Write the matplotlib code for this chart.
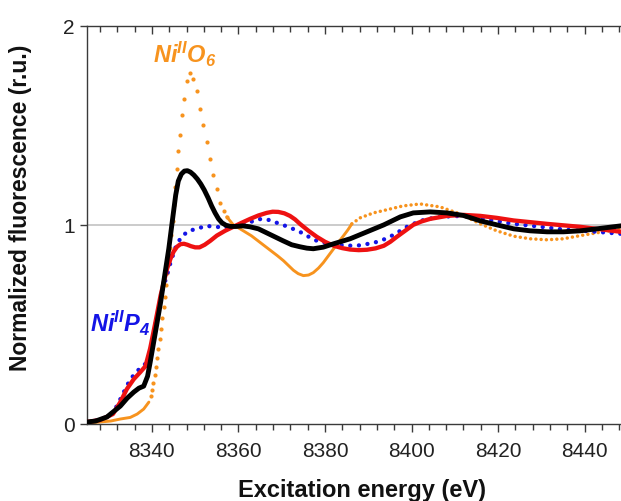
import matplotlib
matplotlib.use("Agg")
import matplotlib.pyplot as plt
from matplotlib.ticker import MultipleLocator, FixedLocator
import numpy as np

plt.rcParams['font.family'] = ['Liberation Sans', 'DejaVu Sans']
plt.rcParams['mathtext.fontset'] = 'custom'
plt.rcParams['mathtext.rm'] = 'Liberation Sans:bold:italic'
plt.rcParams['mathtext.it'] = 'Liberation Sans:bold:italic'
plt.rcParams['mathtext.bf'] = 'Liberation Sans:bold:italic'
plt.rcParams['mathtext.default'] = 'rm'

# ---------------- data ----------------
black_E = [8325, 8327, 8329.6, 8331, 8332.7, 8334.3, 8335.8, 8337, 8338.1, 8339, 8339.6,
           8340.4, 8341.2, 8342, 8342.7, 8343.9, 8344.9, 8345.5, 8346.1, 8346.8, 8347.5,
           8348.2, 8348.9, 8349.7, 8350.5, 8351.3, 8352.1, 8353, 8353.8, 8354.6, 8355.4,
           8356.2, 8357.1, 8358.2, 8359.5, 8361, 8362.7, 8364.6,
           8366.5, 8368.4, 8370.3, 8372.3, 8374.2, 8375.8, 8377.3, 8379.6, 8382, 8385.8, 8389.7,
           8393.6, 8397.4, 8400.4, 8404.3, 8408.2, 8412, 8415.9, 8419.7, 8423.6, 8427.4,
           8431.3, 8435.1, 8439, 8442.8, 8448.4]
black_v = [0.01, 0.015, 0.035, 0.06, 0.09, 0.13, 0.16, 0.18, 0.19, 0.24, 0.31,
           0.41, 0.51, 0.61, 0.71, 0.88, 1.05, 1.15, 1.22, 1.255, 1.27,
           1.272, 1.265, 1.25, 1.23, 1.205, 1.175, 1.135, 1.095, 1.06, 1.03,
           1.01, 0.998, 0.992, 0.992, 0.995, 0.99, 0.98,
           0.96, 0.94, 0.92, 0.90, 0.89, 0.883, 0.88, 0.888, 0.905, 0.93, 0.965,
           1.0, 1.04, 1.06, 1.065, 1.06, 1.047, 1.02, 1.0, 0.98, 0.97,
           0.965, 0.965, 0.97, 0.98, 0.995]

red_E = [8325, 8328, 8331, 8332.7, 8334.2, 8335.8, 8337.3, 8338.5, 8339.6, 8340.8, 8342,
         8343.5, 8344.3, 8345, 8345.8, 8346.6, 8347.4, 8348.2, 8349, 8350, 8351, 8352.2,
         8353.5, 8355, 8356.9, 8358.8, 8360.7, 8362.7, 8364.6,
         8366.5, 8367.9, 8369.2, 8370.6, 8371.9, 8373.1, 8374.2, 8376.2, 8378.1, 8380, 8382,
         8384, 8385.8, 8387.8, 8389.7, 8391.7,
         8393.6, 8395.1, 8396.6, 8398.5, 8400.4, 8402.3, 8404.3, 8408.2, 8412, 8415.9, 8419.7,
         8423.6, 8431.3, 8439, 8448.4]
red_v = [0.01, 0.02, 0.05, 0.11, 0.175, 0.225, 0.26, 0.29, 0.38, 0.51, 0.645,
         0.78, 0.83, 0.865, 0.89, 0.903, 0.905, 0.90, 0.893, 0.887, 0.887, 0.90,
         0.92, 0.946, 0.97, 0.99, 1.01, 1.03, 1.047,
         1.06, 1.066, 1.065, 1.058, 1.045, 1.027, 1.005, 0.97, 0.94, 0.915, 0.895,
         0.883, 0.876, 0.873, 0.875, 0.882,
         0.895, 0.915, 0.94, 0.97, 1.0, 1.017, 1.03, 1.045, 1.05, 1.045, 1.035,
         1.022, 1.005, 0.99, 0.965]

blue_E = [8325, 8328, 8330.5, 8331.9, 8333.5, 8335, 8336.8, 8338.9, 8340, 8341, 8342.3,
          8344.3, 8345.5, 8346.8, 8348.5, 8350.4, 8352.5, 8354.7, 8356.8, 8358.8, 8360.7,
          8362.7, 8364, 8365.4, 8366.6, 8367.7, 8369.5, 8371.5, 8374.2, 8375.8, 8378.1,
          8380, 8382, 8385, 8388, 8391.3, 8393.2, 8395, 8397, 8398.9, 8402, 8406, 8412,
          8418, 8423.6, 8430, 8436, 8442.8, 8448.4]
blue_v = [0.01, 0.02, 0.05, 0.09, 0.16, 0.225, 0.27, 0.31, 0.40, 0.52, 0.66,
          0.81, 0.89, 0.94, 0.97, 0.98, 0.995, 0.99, 0.987, 0.99, 1.0,
          1.013, 1.025, 1.03, 1.027, 1.02, 1.005, 0.99, 0.965, 0.945, 0.92,
          0.91, 0.903, 0.895, 0.897, 0.91, 0.923, 0.94, 0.965, 0.99, 1.02, 1.04, 1.045,
          1.025, 1.005, 0.99, 0.975, 0.965, 0.955]

orange_E = [8325, 8328, 8330.5, 8332.7, 8335, 8336.6, 8338.1, 8339.3,
            8339.7, 8340.0, 8340.3, 8340.6, 8340.9, 8341.2, 8341.5, 8341.8, 8342.1,
            8342.4, 8342.7, 8343.0, 8343.3, 8343.6, 8343.9, 8344.2, 8344.5, 8344.8,
            8345.1, 8345.4, 8345.7, 8346.1, 8346.5, 8347.0, 8347.4, 8348.0, 8348.8,
            8349.6, 8350.4, 8351.1, 8351.9, 8352.7, 8353.4, 8354.2, 8355.0, 8355.8,
            8356.6, 8357.3,
            8358.8, 8360, 8361.5, 8363, 8364.5, 8366, 8367.5, 8369, 8370.4, 8371.6,
            8372.7, 8373.8, 8375, 8376.2, 8377.3, 8378.5, 8379.6, 8380.8, 8382, 8383.2,
            8384.3, 8385.3, 8386.2,
            8388.1, 8391.2, 8395.1, 8398, 8402, 8406.6, 8411.2, 8415.9, 8419.7,
            8423.6, 8427.4, 8431.3, 8435.1, 8439, 8442.8, 8448.4]
orange_v = [0.005, 0.01, 0.015, 0.025, 0.033, 0.05, 0.075, 0.11,
            0.14, 0.17, 0.205, 0.245, 0.285, 0.33, 0.375, 0.425, 0.475,
            0.53, 0.585, 0.64, 0.70, 0.76, 0.82, 0.885, 0.95, 1.02,
            1.10, 1.19, 1.28, 1.37, 1.45, 1.55, 1.63, 1.72, 1.76,
            1.73, 1.67, 1.58, 1.50, 1.415, 1.33, 1.25, 1.18, 1.11,
            1.07, 1.04,
            1.0, 0.985, 0.965, 0.945, 0.92, 0.895, 0.87, 0.845, 0.82, 0.795,
            0.772, 0.755, 0.745, 0.748, 0.76, 0.783, 0.81, 0.845, 0.88, 0.915,
            0.946, 0.975, 1.005,
            1.035, 1.06, 1.08, 1.095, 1.105, 1.09, 1.055, 1.005, 0.97,
            0.943, 0.93, 0.925, 0.93, 0.946, 0.96, 0.98]

# energies where the orange trace changes style: solid | dots | solid | dotted
orange_breaks = [8339.3, 8357.3, 8386.2]

# ---------------- figure ----------------
ORANGE = '#F7931E'
BLUE = '#1414E6'
RED = '#EE1111'

fig = plt.figure(figsize=(6.21, 5.02), dpi=100)
ax = fig.add_axes([87/621, 1-425/502, (621-87)/621, (425-26.7)/502])

ax.axhline(1, color='#bdbdbd', lw=1.1, zorder=1)

oE = np.array(orange_E); ov = np.array(orange_v)
b1, b2, b3 = orange_breaks
m1 = oE <= b1
m2 = (oE > b1) & (oE <= b2)
m3 = (oE >= b2) & (oE <= b3)
m4 = oE >= b3
ax.plot(oE[m1], ov[m1], color=ORANGE, lw=2.1, solid_capstyle='round', zorder=2)
ax.plot(oE[m2], ov[m2], ls='none', marker='o', ms=3.0, mew=0, color=ORANGE, zorder=2)
ax.plot(oE[m3], ov[m3], color=ORANGE, lw=2.1, solid_capstyle='round', zorder=2)
ax.plot(oE[m4], ov[m4], color=ORANGE, lw=2.5, ls=(0, (0.01, 1.5)),
        dash_capstyle='round', zorder=2)

ax.plot(blue_E, blue_v, color=BLUE, lw=3.1, ls=(0, (0.01, 2.0)),
        dash_capstyle='round', zorder=3)
ax.plot(red_E, red_v, color=RED, lw=3.1, solid_capstyle='round', zorder=4)
ax.plot(black_E, black_v, color='black', lw=3.5, solid_capstyle='round', zorder=5)

ax.set_xlim(8325, 8448.4)
ax.set_ylim(0, 2)

ax.xaxis.set_major_locator(MultipleLocator(20))
ax.xaxis.set_minor_locator(MultipleLocator(4))
ax.yaxis.set_major_locator(FixedLocator([0, 1, 2]))
ax.yaxis.set_minor_locator(FixedLocator([]))

SPINE = '#3a3a3a'
for s in ['left', 'bottom', 'top']:
    ax.spines[s].set_color(SPINE)
    ax.spines[s].set_linewidth(1.0)
ax.spines['right'].set_visible(False)

ax.tick_params(axis='x', which='major', direction='out', length=6, width=1.0,
               color=SPINE, labelsize=15, pad=6, labelcolor='#222222')
ax.tick_params(axis='x', which='minor', direction='out', length=4, width=1.0, color=SPINE)
ax.tick_params(axis='y', which='major', direction='out', length=5, width=1.0,
               color=SPINE, labelsize=15, pad=4, labelcolor='#222222')

top = ax.secondary_xaxis('top')
top.xaxis.set_major_locator(MultipleLocator(20))
top.xaxis.set_minor_locator(MultipleLocator(4))
top.tick_params(axis='x', which='major', direction='in', length=6, width=1.0,
                color=SPINE, labeltop=False)
top.tick_params(axis='x', which='minor', direction='in', length=4, width=1.0, color=SPINE)
top.spines['top'].set_visible(False)

ax.set_xlabel('Excitation energy (eV)', fontsize=17, fontweight='bold', color='#111111')
ax.xaxis.set_label_coords((362.5-87)/534, -(490-425)/398.3)
ax.xaxis.label.set_va('center')
ax.set_ylabel('Normalized fluorescence (r.u.)', fontsize=16.5, fontweight='bold', color='#111111')
ax.yaxis.set_label_coords((20-87)/534, (425-207.5)/398.3)
ax.yaxis.label.set_va('center')

ax.text(8340.25, 1.817, r'$Ni^{II}O_6$', color=ORANGE, fontsize=17, ha='left', va='baseline')
ax.text(8325.7, 0.467, r'$Ni^{II}P_4$', color=BLUE, fontsize=17, ha='left', va='baseline')

fig.savefig('out.png', dpi=100)
